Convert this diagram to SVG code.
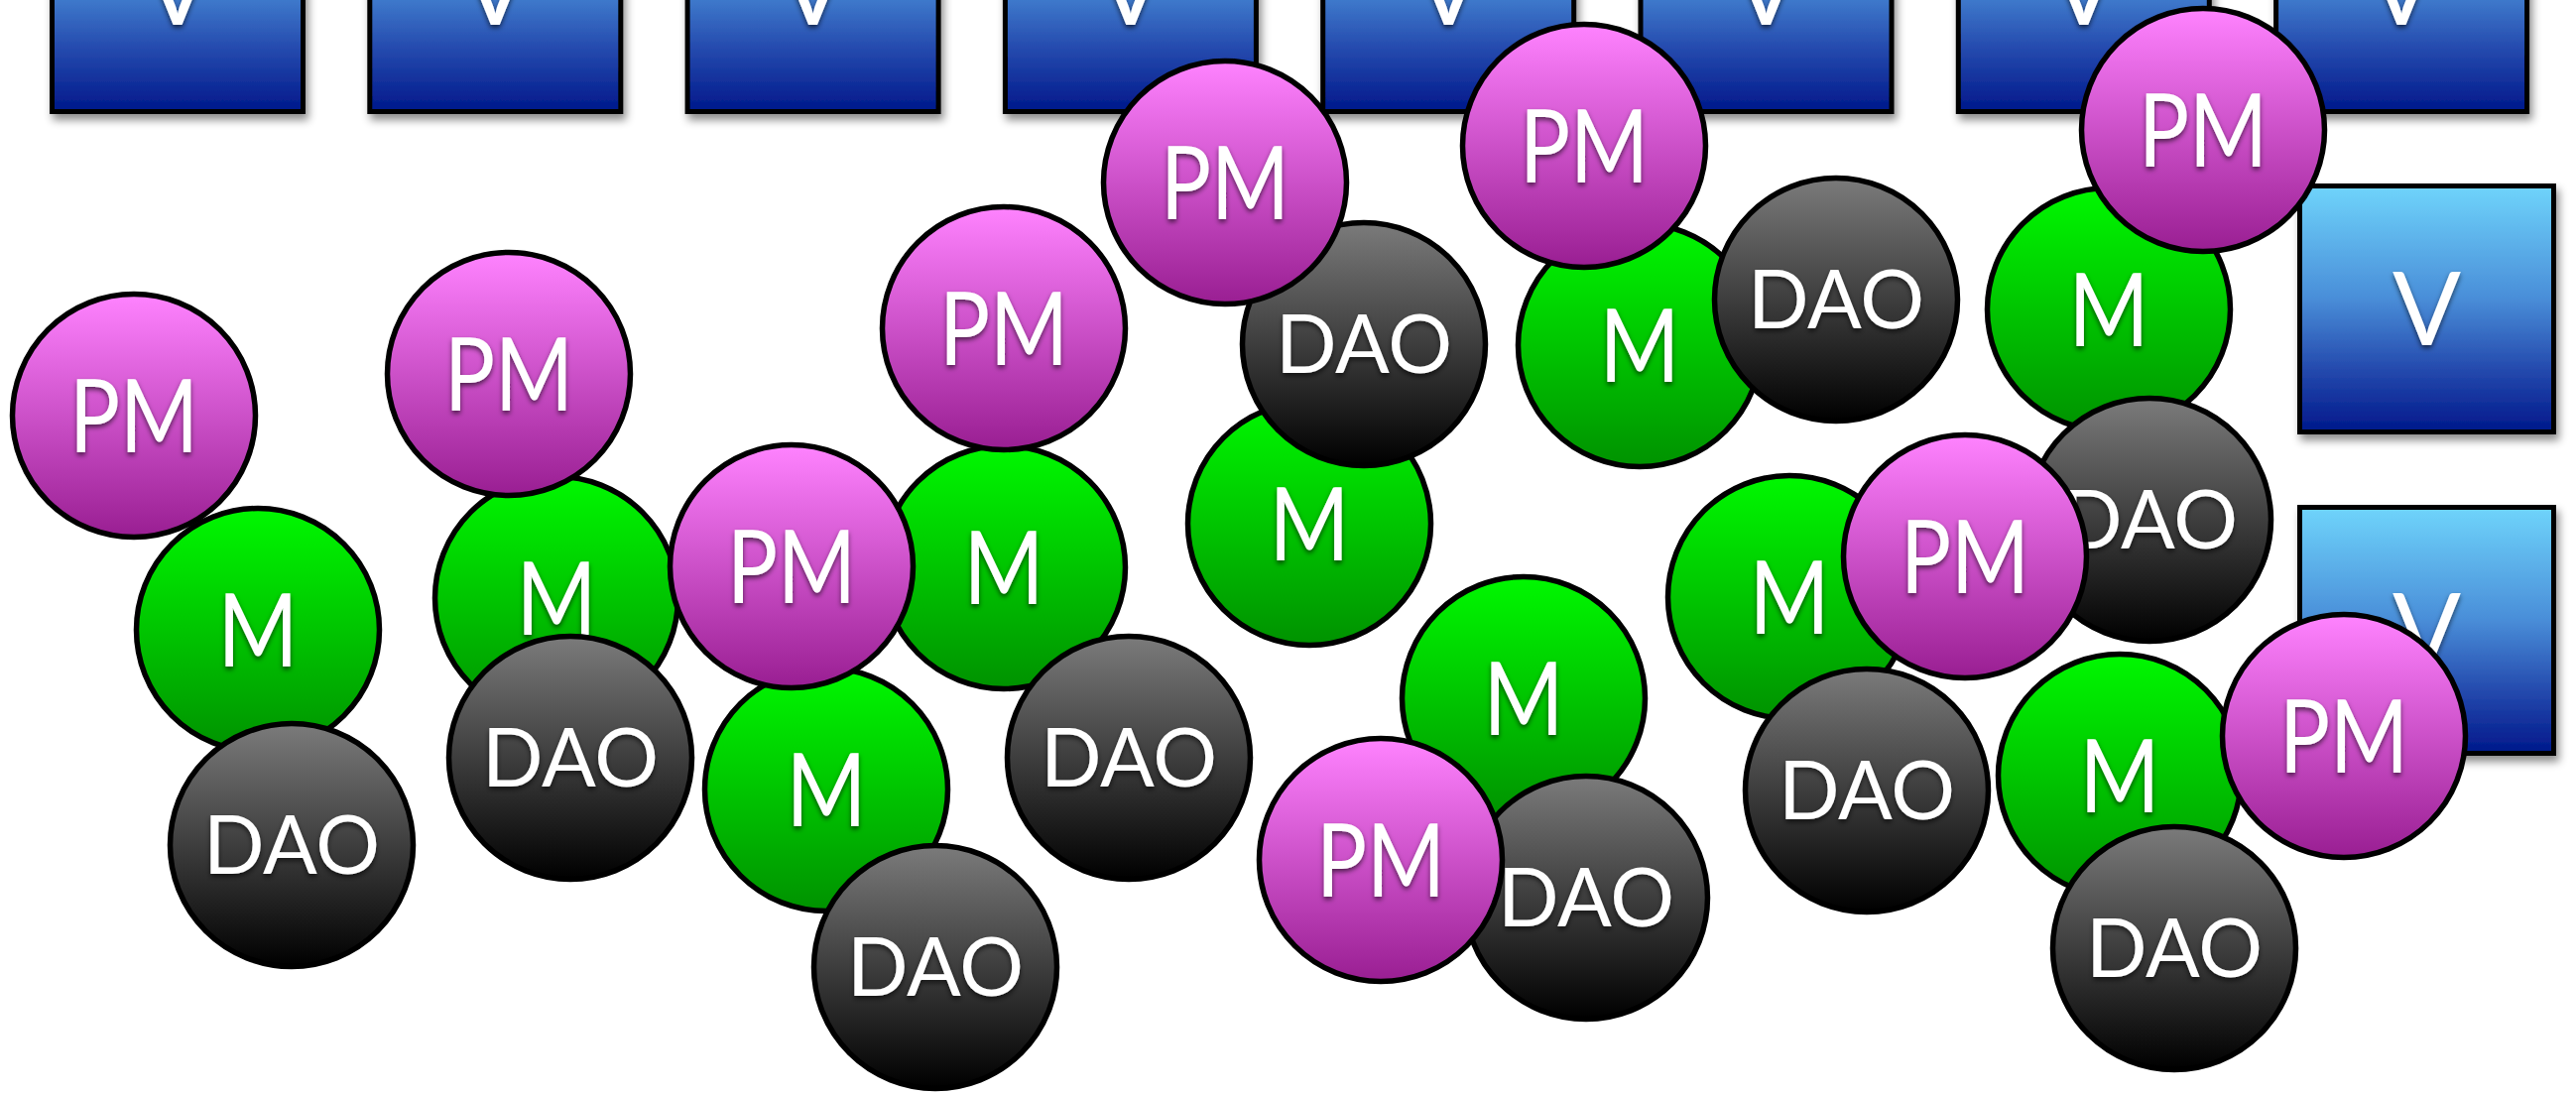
<svg xmlns="http://www.w3.org/2000/svg" width="2597" height="1104" viewBox="0 0 2597 1104">
<style>
.v rect{fill:url(#gV);stroke:#000;stroke-width:5;filter:url(#shR)}
.n circle{stroke:#000;stroke-width:5.5}
.pm circle{fill:url(#gPM)}
.m circle{fill:url(#gM)}
.dao circle{fill:url(#gD)}
text{font-family:Lato,"Open Sans","Liberation Sans",sans-serif;fill:#fff;text-anchor:middle;filter:url(#shT)}
.big{font-size:102px}
.sm{font-size:81px}
</style>
<defs>
<linearGradient id="gV" x1="0" y1="0" x2="0" y2="1">
<stop offset="0" stop-color="#6fd4fb"/>
<stop offset="0.45" stop-color="#4a8fd9"/>
<stop offset="0.75" stop-color="#2449ad"/>
<stop offset="1" stop-color="#00188b"/>
</linearGradient>
<linearGradient id="gPM" x1="0" y1="0" x2="0" y2="1">
<stop offset="0" stop-color="#ff83ff"/>
<stop offset="1" stop-color="#991e92"/>
</linearGradient>
<linearGradient id="gM" x1="0" y1="0" x2="0" y2="1">
<stop offset="0" stop-color="#00f800"/>
<stop offset="1" stop-color="#009200"/>
</linearGradient>
<linearGradient id="gD" x1="0" y1="0" x2="0" y2="1">
<stop offset="0" stop-color="#7b7b7b"/>
<stop offset="1" stop-color="#000"/>
</linearGradient>
<filter id="shR" x="-10%" y="-10%" width="130%" height="130%">
<feDropShadow dx="3" dy="6" stdDeviation="4" flood-color="#000" flood-opacity="0.45"/>
</filter>
<filter id="shT" x="-20%" y="-20%" width="140%" height="150%">
<feDropShadow dx="0" dy="3" stdDeviation="2.5" flood-color="#000" flood-opacity="0.6"/>
</filter>
</defs>
<rect width="2597" height="1104" fill="#fff"/>
<g id="v1" class="v"><rect x="52.5" y="-135.5" width="253" height="248"/><text class="big" x="179" y="25">V</text></g>
<g id="v2" class="v"><rect x="372.8" y="-135.5" width="253" height="248"/><text class="big" x="499.3" y="25">V</text></g>
<g id="v3" class="v"><rect x="693.1" y="-135.5" width="253" height="248"/><text class="big" x="819.6" y="25">V</text></g>
<g id="v4" class="v"><rect x="1013.4" y="-135.5" width="253" height="248"/><text class="big" x="1139.9" y="25">V</text></g>
<g id="v5" class="v"><rect x="1333.7" y="-135.5" width="253" height="248"/><text class="big" x="1460.2" y="25">V</text></g>
<g id="v6" class="v"><rect x="1654" y="-135.5" width="253" height="248"/><text class="big" x="1780.5" y="25">V</text></g>
<g id="v7" class="v"><rect x="1974.3" y="-135.5" width="253" height="248"/><text class="big" x="2100.8" y="25">V</text></g>
<g id="v8" class="v"><rect x="2294.6" y="-135.5" width="253" height="248"/><text class="big" x="2421.1" y="25">V</text></g>
<g id="v9" class="v"><rect x="2318.5" y="187.5" width="256" height="248"/><text class="big" x="2446.5" y="348">V</text></g>
<g id="v10" class="v"><rect x="2318.5" y="511.5" width="256" height="248"/><text class="big" x="2446.5" y="672">V</text></g>

<g id="m1" class="n m"><circle cx="260" cy="635" r="122.5"/><text class="big" x="260" y="671.5" textLength="81" lengthAdjust="spacingAndGlyphs">M</text></g>
<g id="m2" class="n m"><circle cx="561" cy="603" r="122.5"/><text class="big" x="561" y="639.5" textLength="81" lengthAdjust="spacingAndGlyphs">M</text></g>
<g id="m3" class="n m"><circle cx="1012" cy="572" r="122.5"/><text class="big" x="1012" y="608.5" textLength="81" lengthAdjust="spacingAndGlyphs">M</text></g>
<g id="m4" class="n m"><circle cx="1320" cy="528" r="122.5"/><text class="big" x="1320" y="564.5" textLength="81" lengthAdjust="spacingAndGlyphs">M</text></g>
<g id="m5" class="n m"><circle cx="1653" cy="348" r="122.5"/><text class="big" x="1653" y="384.5" textLength="81" lengthAdjust="spacingAndGlyphs">M</text></g>
<g id="m6" class="n m"><circle cx="2126" cy="312" r="122.5"/><text class="big" x="2126" y="348.5" textLength="81" lengthAdjust="spacingAndGlyphs">M</text></g>
<g id="m7" class="n m"><circle cx="833" cy="796" r="122.5"/><text class="big" x="833" y="832.5" textLength="81" lengthAdjust="spacingAndGlyphs">M</text></g>
<g id="m8" class="n m"><circle cx="1536" cy="704" r="122.5"/><text class="big" x="1536" y="740.5" textLength="81" lengthAdjust="spacingAndGlyphs">M</text></g>
<g id="m9" class="n m"><circle cx="1804" cy="602" r="122.5"/><text class="big" x="1804" y="638.5" textLength="81" lengthAdjust="spacingAndGlyphs">M</text></g>
<g id="m10" class="n m"><circle cx="2137" cy="782" r="122.5"/><text class="big" x="2137" y="818.5" textLength="81" lengthAdjust="spacingAndGlyphs">M</text></g>

<g id="dao1" class="n dao"><circle cx="294" cy="852" r="122.5"/><text class="sm" x="294" y="881">DAO</text></g>
<g id="dao2" class="n dao"><circle cx="575" cy="764" r="122.5"/><text class="sm" x="575" y="793">DAO</text></g>
<g id="dao3" class="n dao"><circle cx="1138" cy="764" r="122.5"/><text class="sm" x="1138" y="793">DAO</text></g>
<g id="dao4" class="n dao"><circle cx="1375" cy="347" r="122.5"/><text class="sm" x="1375" y="376">DAO</text></g>
<g id="dao5" class="n dao"><circle cx="1851" cy="302" r="122.5"/><text class="sm" x="1851" y="331">DAO</text></g>
<g id="dao6" class="n dao"><circle cx="2167" cy="524" r="122.5"/><text class="sm" x="2167" y="553">DAO</text></g>
<g id="dao7" class="n dao"><circle cx="943" cy="975" r="122.5"/><text class="sm" x="943" y="1004">DAO</text></g>
<g id="dao8" class="n dao"><circle cx="1599" cy="905" r="122.5"/><text class="sm" x="1599" y="934">DAO</text></g>
<g id="dao9" class="n dao"><circle cx="1882" cy="797" r="122.5"/><text class="sm" x="1882" y="826">DAO</text></g>
<g id="dao10" class="n dao"><circle cx="2192" cy="956" r="122.5"/><text class="sm" x="2192" y="985">DAO</text></g>

<g id="pm1" class="n pm"><circle cx="135" cy="419" r="122.5"/><text class="big" x="135" y="455.5" textLength="130" lengthAdjust="spacingAndGlyphs">PM</text></g>
<g id="pm2" class="n pm"><circle cx="513" cy="377" r="122.5"/><text class="big" x="513" y="413.5" textLength="130" lengthAdjust="spacingAndGlyphs">PM</text></g>
<g id="pm3" class="n pm"><circle cx="1012" cy="331" r="122.5"/><text class="big" x="1012" y="367.5" textLength="130" lengthAdjust="spacingAndGlyphs">PM</text></g>
<g id="pm4" class="n pm"><circle cx="1235" cy="184" r="122.5"/><text class="big" x="1235" y="220.5" textLength="130" lengthAdjust="spacingAndGlyphs">PM</text></g>
<g id="pm5" class="n pm"><circle cx="1597" cy="147" r="122.5"/><text class="big" x="1597" y="183.5" textLength="130" lengthAdjust="spacingAndGlyphs">PM</text></g>
<g id="pm6" class="n pm"><circle cx="2221" cy="131" r="122.5"/><text class="big" x="2221" y="167.5" textLength="130" lengthAdjust="spacingAndGlyphs">PM</text></g>
<g id="pm7" class="n pm"><circle cx="798" cy="571" r="122.5"/><text class="big" x="798" y="607.5" textLength="130" lengthAdjust="spacingAndGlyphs">PM</text></g>
<g id="pm8" class="n pm"><circle cx="1981" cy="561" r="122.5"/><text class="big" x="1981" y="597.5" textLength="130" lengthAdjust="spacingAndGlyphs">PM</text></g>
<g id="pm9" class="n pm"><circle cx="1392" cy="867" r="122.5"/><text class="big" x="1392" y="903.5" textLength="130" lengthAdjust="spacingAndGlyphs">PM</text></g>
<g id="pm10" class="n pm"><circle cx="2363" cy="742" r="122.5"/><text class="big" x="2363" y="778.5" textLength="130" lengthAdjust="spacingAndGlyphs">PM</text></g>
</svg>
